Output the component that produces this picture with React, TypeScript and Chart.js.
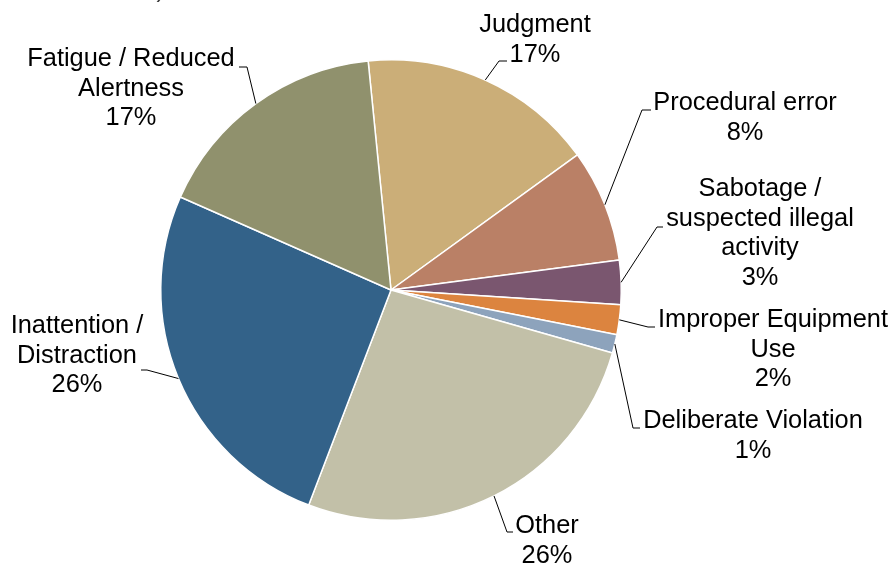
import React, { useEffect, useRef } from "react";
import { Chart, registerables } from "chart.js";

Chart.register(...registerables);

const categories = [
  "Judgment",
  "Procedural error",
  "Sabotage / suspected illegal activity",
  "Improper Equipment Use",
  "Deliberate Violation",
  "Other",
  "Inattention / Distraction",
  "Fatigue / Reduced Alertness",
];
const shares = [16.6, 7.9, 3.1, 2.1, 1.3, 26.4, 25.8, 16.8];
const colors = [
  "#CBAE78",
  "#BA8066",
  "#7A566F",
  "#DC843F",
  "#8DA3BC",
  "#C2C0A8",
  "#336289",
  "#90916D",
];

// label layout: wrapped lines, text center x, first baseline y, elbow point, end of horizontal stub
const labelLayout = [
  { lines: ["Judgment"], cx: 535, by: 32, elbow: [499, 61], end: [507, 61] },
  { lines: ["Procedural error"], cx: 745, by: 110, elbow: [642, 110], end: [651, 110] },
  { lines: ["Sabotage /", "suspected illegal", "activity"], cx: 760, by: 196, elbow: [657, 227], end: [663, 227] },
  { lines: ["Improper Equipment", "Use"], cx: 773, by: 327, elbow: [648, 327], end: [655, 327] },
  { lines: ["Deliberate Violation"], cx: 753, by: 428, elbow: [633, 428], end: [640, 428] },
  { lines: ["Other"], cx: 547, by: 533, elbow: [507, 532], end: [513, 532] },
  { lines: ["Inattention /", "Distraction"], cx: 77, by: 333, elbow: [147, 370], end: [141, 370] },
  { lines: ["Fatigue / Reduced", "Alertness"], cx: 131, by: 66, elbow: [247, 67], end: [239, 67] },
];

const FONT = '25.4px "Liberation Sans", Arial, sans-serif';
const LINE_H = 29.5;

const labelPlugin = {
  id: "pieLabels",
  afterDraw(chart: any) {
    const ctx = chart.ctx;
    const meta = chart.getDatasetMeta(0);
    const data = chart.data.datasets[0].data as number[];
    const total = data.reduce((a: number, b: number) => a + b, 0);
    ctx.save();
    // clipped title fragment at the very top
    ctx.font = FONT;
    ctx.fillStyle = "#404040";
    ctx.textAlign = "right";
    ctx.textBaseline = "alphabetic";
    ctx.fillText("(percent of total incidents)", 165, -3);

    meta.data.forEach((arc: any, i: number) => {
      const p = arc.getProps(["x", "y", "startAngle", "endAngle", "outerRadius"], true);
      const mid = (p.startAngle + p.endAngle) / 2;
      const ax = p.x + Math.cos(mid) * p.outerRadius;
      const ay = p.y + Math.sin(mid) * p.outerRadius;
      const L = labelLayout[i];
      ctx.strokeStyle = "#000";
      ctx.lineWidth = 1;
      ctx.beginPath();
      ctx.moveTo(ax, ay);
      ctx.lineTo(L.elbow[0], L.elbow[1]);
      ctx.lineTo(L.end[0], L.end[1]);
      ctx.stroke();

      const pct = Math.round((data[i] / total) * 100) + "%";
      const lines = [...L.lines, pct];
      ctx.fillStyle = "#000";
      ctx.textAlign = "center";
      ctx.font = FONT;
      lines.forEach((t, k) => {
        ctx.fillText(t, L.cx, L.by + k * LINE_H);
      });
    });
    ctx.restore();
  },
};

export default function App() {
  const ref = useRef<HTMLCanvasElement | null>(null);
  useEffect(() => {
    if (!ref.current) return;
    const chart = new Chart(ref.current, {
      type: "pie",
      data: {
        labels: categories,
        datasets: [
          {
            data: shares,
            backgroundColor: colors,
            borderColor: "#FFFFFF",
            borderWidth: 1.5,
            hoverOffset: 0,
            offset: 0,
          },
        ],
      },
      options: {
        responsive: false,
        animation: false,
        rotation: -5.7,
        layout: { padding: { top: 59, bottom: 44, left: 160, right: 272 } },
        plugins: {
          legend: { display: false },
          tooltip: { enabled: false },
          title: { display: false },
        },
      },
      plugins: [labelPlugin],
    });
    return () => chart.destroy();
  }, []);
  return (
    <div style={{ position: "absolute", left: 0, top: 0, width: 894, height: 565, background: "#fff" }}>
      <canvas ref={ref} width={894} height={565} style={{ display: "block" }} />
    </div>
  );
}
